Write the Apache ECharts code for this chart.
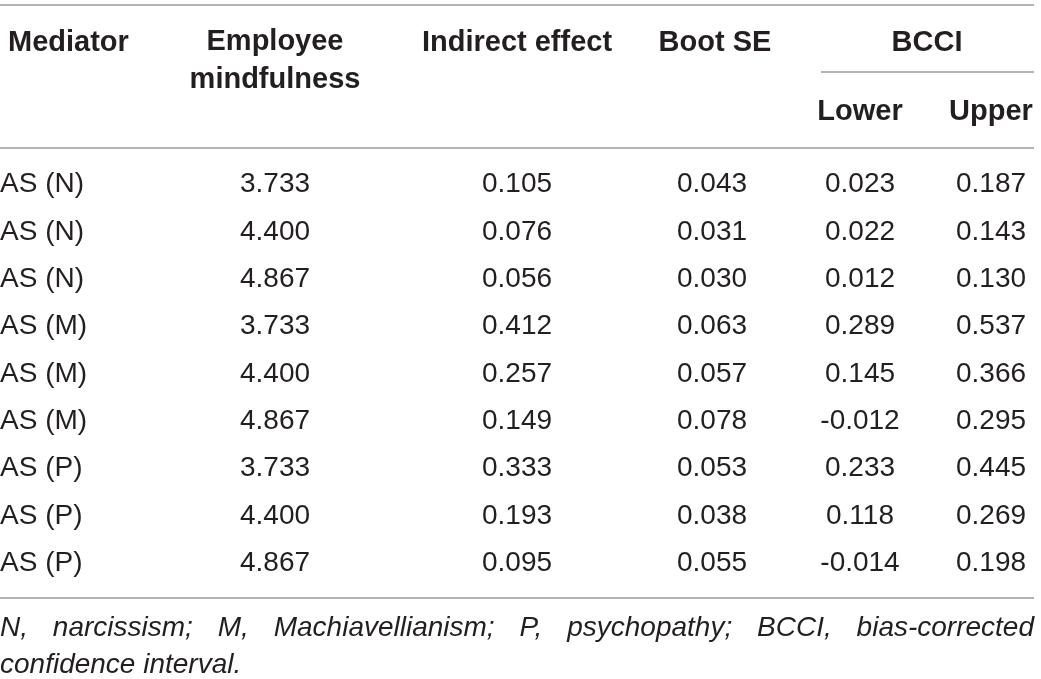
<!DOCTYPE html>
<html><head><meta charset="utf-8">
<script src="https://cdn.jsdelivr.net/npm/echarts@6/dist/echarts.min.js"></script>
<style>html,body{margin:0;padding:0;background:#fff}#c{width:1041px;height:679px}</style>
</head><body><div id="c"></div>
<script>
// ---- data ----
const mediators = ['AS (N)','AS (N)','AS (N)','AS (M)','AS (M)','AS (M)','AS (P)','AS (P)','AS (P)'];
const mindfulness = [3.733,4.400,4.867,3.733,4.400,4.867,3.733,4.400,4.867];
const indirectEffect = [0.105,0.076,0.056,0.412,0.257,0.149,0.333,0.193,0.095];
const bootSE = [0.043,0.031,0.030,0.063,0.057,0.078,0.053,0.038,0.055];
const lower = [0.023,0.022,0.012,0.289,0.145,-0.012,0.233,0.118,-0.014];
const upper = [0.187,0.143,0.130,0.537,0.366,0.295,0.445,0.269,0.198];
const headers = ['Mediator','Employee\nmindfulness','Indirect effect','Boot SE'];
const groupHeader = 'BCCI';
const subHeaders = ['Lower','Upper'];
const footWords = ['N,','narcissism;','M,','Machiavellianism;','P,','psychopathy;','BCCI,','bias-corrected'];
const footLine2 = 'confidence interval.';

// ---- layout ----
const W = 1041, RIGHT = 1034;
const colX = [0, 275, 517, 712, 860, 991];
const FONT = 'Liberation Sans, Arial, sans-serif';
const FS = 28, HFS = 29;
const TXT = '#231f20';
const LINE = '#9a9a9a';

const numCols = [mindfulness, indirectEffect, bootSE, lower, upper];
const rowIdx = mediators.map((_, i) => String(i));

const series = [];
series.push({
  type: 'scatter', symbol: 'circle', symbolSize: 1, itemStyle: {color: 'rgba(0,0,0,0)', opacity: 1}, silent: true,
  data: mediators.map((m, i) => ({value: [colX[0], i], name: m})),
  label: {show: true, position: 'inside', align: 'left', verticalAlign: 'middle',
    formatter: p => p.name, fontFamily: FONT, fontSize: FS, color: TXT}
});
numCols.forEach((arr, c) => {
  series.push({
    type: 'scatter', symbol: 'circle', symbolSize: 1, itemStyle: {color: 'rgba(0,0,0,0)', opacity: 1}, silent: true,
    data: arr.map((v, i) => ({value: [colX[c + 1], i], raw: v})),
    label: {show: true, position: 'inside', align: 'center', verticalAlign: 'middle',
      formatter: p => p.data.raw.toFixed(3), fontFamily: FONT, fontSize: FS, color: TXT}
  });
});

// justified footnote first line
const cv = document.createElement('canvas').getContext('2d');
cv.font = 'italic ' + FS + 'px ' + FONT;
const widths = footWords.map(w => cv.measureText(w).width);
const totalW = widths.reduce((a, b) => a + b, 0);
const gap = (RIGHT - totalW) / (footWords.length - 1);
const footGraphics = [];
let fx = 0;
footWords.forEach((w, i) => {
  footGraphics.push({type: 'text', x: fx, y: 628, style: {text: w, font: 'italic ' + FS + 'px ' + FONT, fill: TXT, textVerticalAlign: 'middle'}});
  fx += widths[i] + gap;
});
footGraphics.push({type: 'text', x: 0, y: 665, style: {text: footLine2, font: 'italic ' + FS + 'px ' + FONT, fill: TXT, textVerticalAlign: 'middle'}});

function hline(x1, x2, y) {
  return {type: 'line', shape: {x1: x1, y1: y, x2: x2, y2: y}, style: {stroke: LINE, lineWidth: 1.6}, silent: true};
}
const bold = 'bold ' + HFS + 'px ' + FONT;
const headG = [
  {type: 'text', x: 8, y: 43, style: {text: headers[0], font: bold, fill: TXT, textVerticalAlign: 'middle'}},
  {type: 'text', x: colX[1], y: 61, style: {text: headers[1], font: bold, fill: TXT, textAlign: 'center', textVerticalAlign: 'middle', lineHeight: 38}},
  {type: 'text', x: colX[2], y: 43, style: {text: headers[2], font: bold, fill: TXT, textAlign: 'center', textVerticalAlign: 'middle'}},
  {type: 'text', x: 715, y: 43, style: {text: headers[3], font: bold, fill: TXT, textAlign: 'center', textVerticalAlign: 'middle'}},
  {type: 'text', x: 927, y: 43, style: {text: groupHeader, font: bold, fill: TXT, textAlign: 'center', textVerticalAlign: 'middle'}},
  {type: 'text', x: colX[4], y: 112, style: {text: subHeaders[0], font: bold, fill: TXT, textAlign: 'center', textVerticalAlign: 'middle'}},
  {type: 'text', x: colX[5], y: 112, style: {text: subHeaders[1], font: bold, fill: TXT, textAlign: 'center', textVerticalAlign: 'middle'}},
  hline(0, RIGHT, 5), hline(821, RIGHT, 72), hline(0, RIGHT, 148), hline(0, RIGHT, 598)
];

const chart = echarts.init(document.getElementById('c'), null, {renderer: 'canvas'});
chart.setOption({
  animation: false,
  backgroundColor: '#fff',
  grid: {left: 0, right: 0, top: 161, bottom: 92, containLabel: false},
  xAxis: {type: 'value', min: 0, max: W, show: false},
  yAxis: {type: 'category', data: rowIdx, inverse: true, show: false, boundaryGap: true},
  graphic: headG.concat(footGraphics),
  series: series
});
</script></body></html>
